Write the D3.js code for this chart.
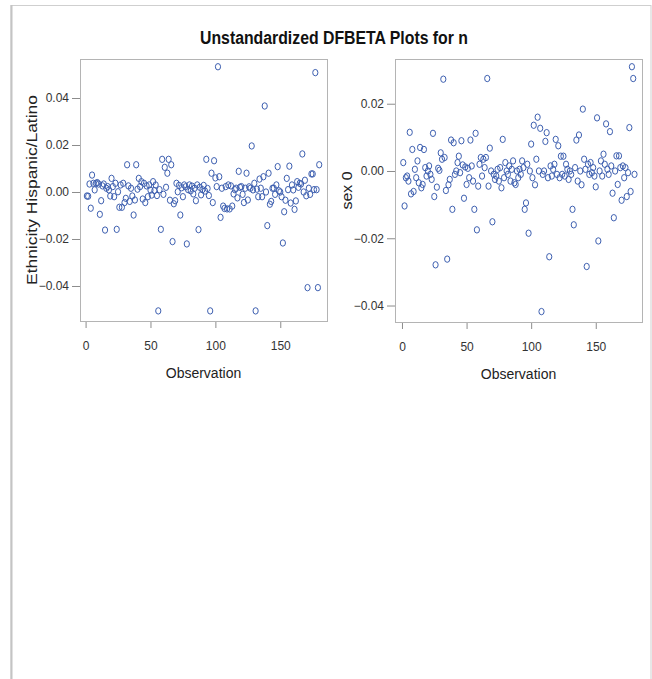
<!DOCTYPE html>
<html>
<head>
<meta charset="utf-8">
<script src="https://cdn.jsdelivr.net/npm/d3@7"></script>
<style>
  body { margin: 0; background: #fff; }
  svg text { font-family: "Liberation Sans Narrow", "Arial Narrow", "Liberation Sans", sans-serif; fill: #222; }
  .frame { fill: none; stroke: #b4b4b4; stroke-width: 1; }
  .axis path { display: none; }
  .axis line { stroke: #8c8c8c; }
  .axis text { font-size: 12px; fill: #333; }
  .pt { fill: none; stroke: #3d5fb0; stroke-width: 1; }
</style>
</head>
<body>
<svg width="652" height="679"></svg>
<script>
// left panel: DFBETA for Ethnicity Hispanic/Latino, obs 1..180
var ethnicity = [
  -0.0017, -0.0018, 0.0034, -0.0069, 0.0072, 0.0037, 0.0009, 0.0037, 0.0040, 0.0034,
  -0.0095, -0.0037, 0.0026, 0.0034, -0.0162, 0.0016, 0.0023, 0.0009, -0.0017, 0.0058,
  0.0023, -0.0020, 0.0037, -0.0159, 0.0001, -0.0065, 0.0030, -0.0065, 0.0037, -0.0045,
  -0.0027, 0.0116, 0.0026, -0.0040, 0.0016, -0.0017, -0.0098, -0.0034, 0.0116, 0.0012,
  0.0058, 0.0023, 0.0044, -0.0030, 0.0037, -0.0045, 0.0026, -0.0020, 0.0030, 0.0008,
  -0.0013, 0.0044, 0.0006, 0.0030, -0.0015, -0.0506, 0.0010, -0.0159, 0.0139, -0.0010,
  0.0105, 0.0020, 0.0080, 0.0139, -0.0035, 0.0116, -0.0211, -0.0050, -0.0037, 0.0037,
  0.0001, 0.0028, -0.0098, 0.0018, -0.0020, 0.0030, 0.0022, -0.0221, 0.0010, 0.0030,
  0.0005, 0.0025, -0.0008, 0.0016, -0.0037, 0.0030, -0.0160, 0.0020, -0.0012, 0.0010,
  0.0028, 0.0004, 0.0139, 0.0015, -0.0015, -0.0506, 0.0080, -0.0045, 0.0133, 0.0060,
  0.0023, 0.0533, 0.0065, -0.0108, 0.0016, -0.0060, -0.0070, 0.0023, -0.0072, 0.0030,
  -0.0072, 0.0026, -0.0060, -0.0008, 0.0010, 0.0016, -0.0025, 0.0088, 0.0020, 0.0023,
  -0.0010, -0.0045, 0.0016, 0.0080, -0.0034, 0.0022, 0.0016, 0.0196, 0.0009, 0.0037,
  -0.0506, 0.0012, -0.0020, 0.0055, 0.0016, -0.0020, 0.0065, 0.0366, 0.0000, -0.0143,
  0.0080, -0.0052, -0.0040, 0.0016, 0.0016, -0.0010, 0.0030, 0.0108, 0.0005, 0.0000,
  -0.0020, -0.0217, -0.0084, -0.0035, 0.0058, 0.0010, 0.0110, -0.0047, 0.0030, 0.0009,
  -0.0074, -0.0038, 0.0044, 0.0020, 0.0037, 0.0034, 0.0162, 0.0000, 0.0050, -0.0016,
  -0.0407, 0.0016, -0.0010, 0.0077, 0.0077, 0.0010, 0.0508, 0.0010, -0.0407, 0.0116
];

// right panel: DFBETA for sex 0, obs 1..180
var sex0 = [
  0.0025, -0.0104, -0.0020, -0.0015, -0.0030, 0.0115, -0.0068, 0.0064, -0.0061, 0.0005,
  -0.0020, 0.0030, -0.0035, 0.0070, -0.0050, -0.0040, 0.0064, 0.0010, -0.0015, 0.0000,
  0.0015, -0.0010, -0.0025, 0.0112, -0.0076, -0.0279, -0.0048, 0.0008, 0.0002, 0.0054,
  0.0035, 0.0273, 0.0040, -0.0058, -0.0262, -0.0041, -0.0025, 0.0092, -0.0114, 0.0084,
  -0.0010, 0.0000, 0.0025, 0.0044, -0.0005, 0.0090, 0.0018, -0.0081, 0.0012, -0.0040,
  0.0008, -0.0020, 0.0092, 0.0015, -0.0030, -0.0114, 0.0112, -0.0175, -0.0045, 0.0020,
  0.0040, -0.0015, 0.0035, 0.0010, 0.0040, 0.0275, -0.0045, 0.0068, 0.0000, -0.0151,
  -0.0010, -0.0025, -0.0015, 0.0005, -0.0030, 0.0010, -0.0050, 0.0094, -0.0020, 0.0025,
  0.0000, -0.0010, 0.0015, -0.0030, 0.0005, 0.0030, -0.0035, -0.0040, 0.0000, -0.0020,
  0.0005, -0.0010, 0.0030, 0.0010, -0.0114, -0.0095, 0.0020, -0.0185, 0.0000, 0.0080,
  -0.0020, 0.0136, -0.0041, 0.0035, 0.0160, 0.0000, 0.0127, -0.0418, -0.0010, 0.0000,
  0.0088, 0.0114, -0.0020, -0.0255, 0.0015, -0.0015, 0.0005, 0.0020, 0.0094, -0.0010,
  0.0075, -0.0020, 0.0044, -0.0010, 0.0044, -0.0015, 0.0020, 0.0005, -0.0025, 0.0000,
  -0.0010, -0.0114, -0.0160, 0.0010, 0.0092, -0.0030, 0.0107, 0.0000, -0.0041, 0.0184,
  0.0035, 0.0005, -0.0284, 0.0020, -0.0010, 0.0025, -0.0005, 0.0010, -0.0015, -0.0047,
  0.0158, -0.0208, 0.0000, 0.0030, -0.0015, 0.0050, 0.0020, 0.0140, 0.0005, -0.0010,
  0.0117, 0.0015, -0.0066, -0.0139, 0.0000, 0.0045, -0.0040, 0.0045, 0.0010, -0.0087,
  0.0015, -0.0020, 0.0010, -0.0076, -0.0005, 0.0129, -0.0061, 0.0310, 0.0275, -0.0010
];

var xTicks = [0, 50, 100, 150];
var leftYTicks = [-0.04, -0.02, 0.00, 0.02, 0.04];
var rightYTicks = [-0.04, -0.02, 0.00, 0.02];

var title = 'Unstandardized DFBETA Plots for n';

var svg = d3.select('svg');

// outer window border
svg.append('rect')
  .attr('x', 11).attr('y', 5.5)
  .attr('width', 640).attr('height', 680)
  .attr('fill', 'none').attr('stroke', '#cfcfcf').attr('stroke-width', 1);
svg.append('line')
  .attr('x1', 11.5).attr('x2', 11.5).attr('y1', 5).attr('y2', 679)
  .attr('stroke', '#c4c4c4').attr('stroke-width', 2);

// narrow title, squeezed to the reference width
svg.append('text')
  .attr('x', 200).attr('y', 44)
  .attr('textLength', 268)
  .attr('lengthAdjust', 'spacingAndGlyphs')
  .style('font-size', '18px').style('font-weight', 'bold').style('fill', '#111')
  .text(title);

function panel(opt) {
  var w = opt.x1 - opt.x0, h = opt.y1 - opt.y0;
  var g = svg.append('g').attr('transform', 'translate(' + opt.x0 + ',' + opt.y0 + ')');

  var x = d3.scaleLinear().domain(opt.xDomain).range([0, w]);
  var y = d3.scaleLinear().domain(opt.yDomain).range([h, 0]);

  g.append('rect').attr('class', 'frame')
    .attr('x', 0.5).attr('y', 0.5).attr('width', w).attr('height', h);

  // x axis
  g.append('g')
    .attr('class', 'axis')
    .attr('transform', 'translate(0,' + (h + 1) + ')')
    .call(d3.axisBottom(x).tickValues(xTicks).tickSize(6).tickPadding(13).tickFormat(d3.format('d')));

  // y axis
  g.append('g')
    .attr('class', 'axis')
    .call(d3.axisLeft(y).tickValues(opt.yTicks).tickSize(8).tickPadding(3).tickFormat(d3.format('.2f')));

  g.selectAll('.pt')
    .data(opt.values)
    .enter().append('ellipse')
    .attr('class', 'pt')
    .attr('cx', function(d, i) { return x(i + 1); })
    .attr('cy', function(d) { return y(d); })
    .attr('rx', 2.6)
    .attr('ry', 3.2);

  g.append('text')
    .attr('x', w / 2).attr('y', h + 57)
    .attr('text-anchor', 'middle')
    .style('font-size', '14px')
    .text('Observation');

  // y label, stretched along its length like the reference
  g.append('text')
    .attr('transform', 'translate(' + opt.labelX + ',' + (h / 2 + opt.labelLen / 2) + ') rotate(-90)')
    .attr('textLength', opt.labelLen)
    .attr('lengthAdjust', 'spacingAndGlyphs')
    .style('font-size', '14px')
    .text(opt.label);
}

panel({
  x0: 80, x1: 327, y0: 59, y1: 321,
  xDomain: [-4.3, 186], yDomain: [-0.0549, 0.0566],
  yTicks: leftYTicks, values: ethnicity,
  label: 'Ethnicity Hispanic/Latino', labelX: -43, labelLen: 190
});

panel({
  x0: 395, x1: 642, y0: 59, y1: 322,
  xDomain: [-5.4, 185.8], yDomain: [-0.0449, 0.0333],
  yTicks: rightYTicks, values: sex0,
  label: 'sex 0', labelX: -43, labelLen: 38
});
</script>
</body>
</html>
